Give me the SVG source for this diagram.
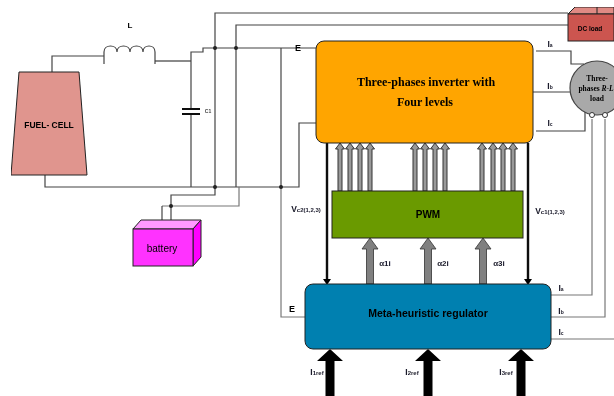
<svg xmlns="http://www.w3.org/2000/svg" width="614" height="396" viewBox="0 0 614 396">
<style>
text{font-family:"Liberation Sans",Arial,sans-serif;font-weight:bold;fill:#000;text-anchor:middle}
.ser{font-family:"Liberation Serif","Times New Roman",serif}
.lbl{font-size:8.5px;fill:#1a1a2a}
.w{fill:none;stroke:#444;stroke-width:1.2}
.l{fill:none;stroke:#777;stroke-width:1.2}
.blk{fill:none;stroke:#111;stroke-width:2.4}
.g{fill:#999;stroke:#333;stroke-width:1}
.big{fill:#808080;stroke:#333;stroke-width:.8}
.in{fill:#000}
.dot{fill:#222}
.box{stroke:#222;stroke-width:1}
</style>
<defs>
<filter id="soft" x="0" y="0" width="100%" height="100%"><feGaussianBlur stdDeviation="0.4"/></filter>
<path id="ga" class="g" d="M-2 48V6H-4.5L0 0L4.5 6H2V48Z"/>
<path id="ba" class="big" d="M-3.5 46V11H-8L0 0L8 11H3.5V46Z"/>
<path id="ia" class="in" d="M-4.5 47V12H-13L0 0L13 12H4.5V47Z"/>
</defs>
<g filter="url(#soft)">
<g id="connectors">
<path class="w" d="M52 72V56H104"/>
<path class="blk" style="stroke-width:1.2" d="M155 61H191"/>
<path class="w" d="M191 61V52H203V48H316"/>
<path class="w" d="M191 61V110M191 113V187"/>
<path class="w" d="M45 175V187H299V123H316"/>
<path class="w" d="M215 187V13H568"/>
<path class="w" d="M236 187V25H568"/>
<path class="w" d="M281 48V187"/>
<path class="w" d="M215 187V195H171V220"/>
<path class="l" d="M239 187V206H162"/>
<path class="w" d="M162 206V229"/>
<path class="l" d="M281 187V317H305"/>
<path class="w" d="M536 51H571V64H584"/>
<path class="w" d="M533 92H570"/>
<path class="w" d="M536 131H585V112"/>
<path class="l" d="M592 119V295H551"/>
<path class="l" d="M605 119V317H551"/>
<path class="l" d="M551 339H614"/>
<path class="blk" d="M327 143V280"/>
<path class="in" d="M323 279H331L327 285Z"/>
<path class="blk" d="M528 143V280"/>
<path class="in" d="M524 279H532L528 285Z"/>
<use href="#ga" x="340" y="143"/><use href="#ga" x="350" y="143"/><use href="#ga" x="360" y="143"/><use href="#ga" x="370" y="143"/>
<use href="#ga" x="415" y="143"/><use href="#ga" x="425" y="143"/><use href="#ga" x="435" y="143"/><use href="#ga" x="445" y="143"/>
<use href="#ga" x="482" y="143"/><use href="#ga" x="493" y="143"/><use href="#ga" x="503" y="143"/><use href="#ga" x="513" y="143"/>
<use href="#ba" x="370" y="238"/><use href="#ba" x="428" y="238"/><use href="#ba" x="483" y="238"/>
<use href="#ia" x="330" y="349"/><use href="#ia" x="428" y="349"/><use href="#ia" x="521" y="349"/>
<circle class="dot" cx="215" cy="48" r="2"/><circle class="dot" cx="236" cy="48" r="2"/>
<circle class="dot" cx="215" cy="187" r="2"/><circle class="dot" cx="281" cy="187" r="2"/>
<circle class="dot" cx="171" cy="206" r="2"/>
</g>
<g id="inductor">
<path class="w" d="M104 64V52C104 44 117 44 117 52C117 44 130 44 130 52C130 44 143 44 143 52C143 44 155 44 155 52V64"/>
<text x="130" y="28" style="font-size:8px">L</text>
</g>
<g id="capacitor">
<path d="M182 109H200M182 114H200" fill="none" stroke="#111" stroke-width="2"/>
<text x="208" y="113" style="font-size:5px;fill:#444">C1</text>
</g>
<g id="fuel-cell">
<path class="box" d="M19 72H79L87 175H11Z" fill="#e0958e"/>
<text x="49" y="128" style="font-size:8.5px">FUEL- CELL</text>
</g>
<g id="battery">
<path class="box" d="M133 229L141 220H201L193 229Z" fill="#ff99ff"/>
<path class="box" d="M193 229L201 220V257L193 266Z" fill="#ff00ff"/>
<rect class="box" x="133" y="229" width="60" height="37" fill="#ff33ff"/>
<text x="162" y="252" style="font-size:10px;font-weight:normal">battery</text>
</g>
<g id="dc-load">
<path class="box" d="M568 14L575 7H614V14Z" fill="#e08a84"/>
<path class="box" d="M597 14V7" fill="none"/>
<rect class="box" x="568" y="14" width="46" height="27" fill="#cc5550"/>
<text x="590" y="31" style="font-size:6.5px">DC load</text>
</g>
<g id="r-l-load">
<circle cx="597" cy="88" r="27" fill="#a9a9a9" stroke="#444" stroke-width="1.2"/>
<circle cx="592" cy="115" r="2.5" fill="#fff" stroke="#333"/>
<circle cx="605" cy="115" r="2.5" fill="#fff" stroke="#333"/>
<text class="ser" x="597" y="81" style="font-size:7.5px">Three-</text>
<text class="ser" x="596" y="91" style="font-size:7.5px">phases <tspan font-style="italic">R-L</tspan></text>
<text class="ser" x="597" y="101" style="font-size:7.5px">load</text>
</g>
<g id="inverter">
<rect class="box" x="316" y="41" width="217" height="102" rx="8" fill="#ffa500"/>
<text class="ser" x="426" y="86" style="font-size:12px">Three-phases inverter with</text>
<text class="ser" x="425" y="106" style="font-size:12px">Four levels</text>
</g>
<g id="pwm">
<rect class="box" x="332" y="191" width="191" height="47" fill="#6a9a00"/>
<text x="428" y="218" style="font-size:10px">PWM</text>
</g>
<g id="regulator">
<rect class="box" x="305" y="284" width="246" height="65" rx="8" fill="#0080b0"/>
<text x="428" y="317" style="font-size:10.5px">Meta-heuristic regulator</text>
</g>
<g id="labels">
<text x="298" y="51" style="font-size:9px">E</text>
<text x="292" y="312" style="font-size:9px">E</text>
<text class="lbl" x="550" y="47">I<tspan font-size="5">a</tspan></text>
<text class="lbl" x="550" y="89">I<tspan font-size="5">b</tspan></text>
<text class="lbl" x="550" y="126">I<tspan font-size="5">c</tspan></text>
<text class="lbl" x="306" y="212">V<tspan font-size="6">c2(1,2,3)</tspan></text>
<text class="lbl" x="550" y="214">V<tspan font-size="6">c1(1,2,3)</tspan></text>
<text class="lbl" x="385" y="266" style="font-size:8px">α1i</text>
<text class="lbl" x="443" y="266" style="font-size:8px">α2i</text>
<text class="lbl" x="499" y="266" style="font-size:8px">α3i</text>
<text class="lbl" x="561" y="291">I<tspan font-size="5">a</tspan></text>
<text class="lbl" x="561" y="314">I<tspan font-size="5">b</tspan></text>
<text class="lbl" x="561" y="335">I<tspan font-size="5">c</tspan></text>
<text class="lbl" x="317" y="375">I<tspan font-size="6">1ref</tspan></text>
<text class="lbl" x="412" y="375">I<tspan font-size="6">2ref</tspan></text>
<text class="lbl" x="506" y="375">I<tspan font-size="6">3ref</tspan></text>
</g>
</g>
</svg>
